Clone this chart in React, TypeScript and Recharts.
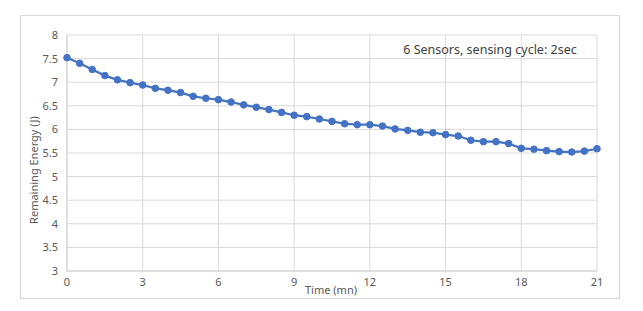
import React from "react";
import { LineChart, Line, XAxis, YAxis, CartesianGrid, Customized } from "recharts";

const times = [0,0.5,1,1.5,2,2.5,3,3.5,4,4.5,5,5.5,6,6.5,7,7.5,8,8.5,9,9.5,10,10.5,11,11.5,12,12.5,13,13.5,14,14.5,15,15.5,16,16.5,17,17.5,18,18.5,19,19.5,20,20.5,21];
const energy = [7.52,7.40,7.27,7.14,7.05,6.99,6.94,6.87,6.83,6.78,6.70,6.66,6.63,6.58,6.52,6.47,6.42,6.36,6.30,6.27,6.22,6.17,6.12,6.10,6.10,6.07,6.01,5.98,5.94,5.93,5.89,5.86,5.77,5.74,5.74,5.70,5.60,5.58,5.55,5.53,5.52,5.54,5.59];
const xTicks = [0,3,6,9,12,15,18,21];
const yTicks = [3,3.5,4,4.5,5,5.5,6,6.5,7,7.5,8];
const xTitle = "Time (mn)";
const yTitle = "Remaining Energy (J)";
const note = "6 Sensors, sensing cycle: 2sec";

const data = times.map((t, i) => ({ t, e: energy[i] }));

const FONT = "'Noto Sans', sans-serif";

const Texts = () => (
  <g>
    <text x={33} y={170} transform="rotate(-90 33 170)" textAnchor="middle" dominantBaseline="central" fontSize={11} fill="#595959" fontFamily={FONT}>{yTitle}</text>
    <text x={331} y={289} textAnchor="middle" dominantBaseline="central" fontSize={11} fill="#595959" fontFamily={FONT}>{xTitle}</text>
    <text x={490} y={49} textAnchor="middle" dominantBaseline="central" fontSize={12.5} fill="#404040" fontFamily={FONT}>{note}</text>
  </g>
);

export default function App() {
  return (
    <div style={{ position: "fixed", left: 0, top: 0, width: 643, height: 311, background: "#fff" }}>
      <div style={{ position: "absolute", left: 20, top: 15, width: 598, height: 282, border: "1px solid #d9d9d9" }} />
      <div style={{ position: "absolute", left: 0, top: 0 }}>
        <LineChart width={643} height={311} data={data} margin={{ top: 35, right: 46, bottom: 20, left: 10 }}>
          <CartesianGrid stroke="#d9d9d9" strokeWidth={1} />
          <XAxis dataKey="t" type="number" domain={[0, 21]} ticks={xTicks} height={20} tickSize={0} tickMargin={7}
            axisLine={{ stroke: "#d0d0d0" }} tick={{ fontSize: 11, fill: "#595959", fontFamily: FONT }} interval={0} />
          <YAxis type="number" domain={[3, 8]} ticks={yTicks} width={57} tickSize={0} tickMargin={9}
            axisLine={{ stroke: "#d0d0d0" }} tick={{ fontSize: 11, fill: "#595959", fontFamily: FONT }} interval={0} />
          <Line dataKey="e" stroke="#4472c4" strokeWidth={2.25} dot={{ r: 3.3, fill: "#4472c4", stroke: "#4472c4", strokeWidth: 1 }} isAnimationActive={false} />
          <Customized component={Texts} />
        </LineChart>
      </div>
    </div>
  );
}
